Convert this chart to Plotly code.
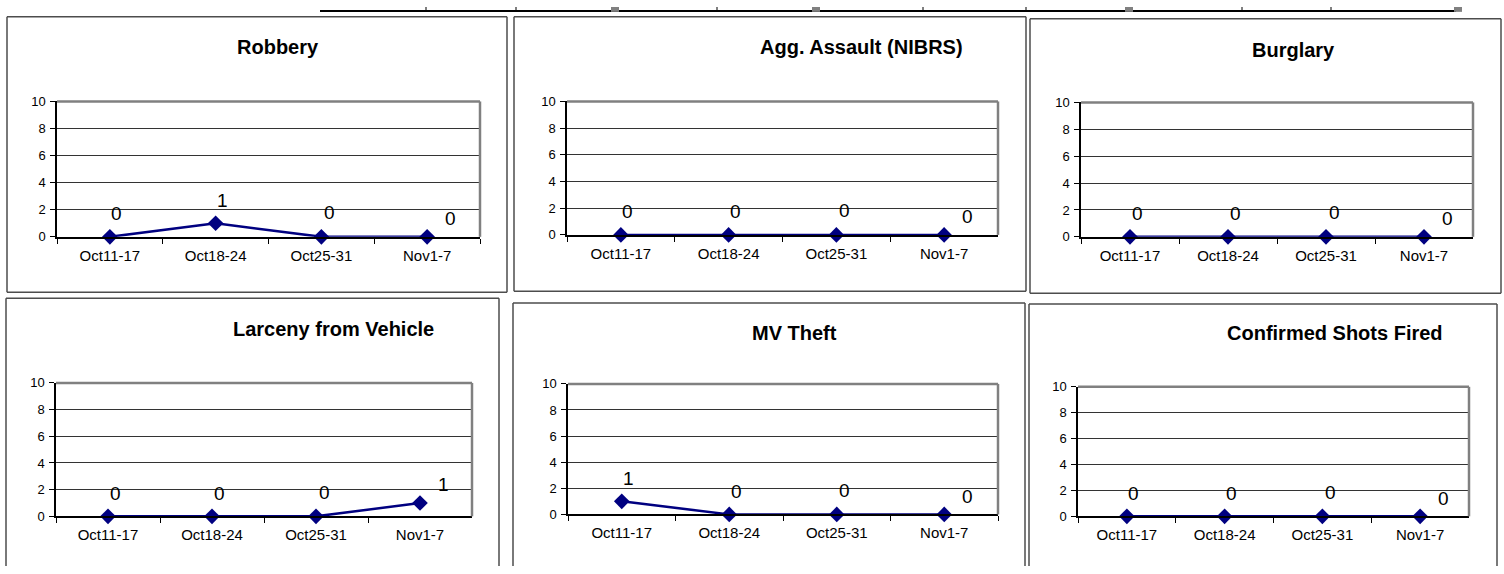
import plotly.graph_objects as go

# Weekly periods shown on every panel
weeks = ["Oct11-17", "Oct18-24", "Oct25-31", "Nov1-7"]

# Incident counts per offense type
robbery = [0, 1, 0, 0]
agg_assault = [0, 0, 0, 0]
burglary = [0, 0, 0, 0]
larceny_vehicle = [0, 0, 0, 1]
mv_theft = [1, 0, 0, 0]
shots_fired = [0, 0, 0, 0]

titles = [
    "Robbery",
    "Agg. Assault (NIBRS)",
    "Burglary",
    "Larceny from Vehicle",
    "MV Theft",
    "Confirmed Shots Fired",
]
series = [robbery, agg_assault, burglary, larceny_vehicle, mv_theft, shots_fired]

y_ticks = [0, 2, 4, 6, 8, 10]

W, H = 1504, 574
FONT = "Liberation Sans, Arial, sans-serif"
NAVY = "#000080"

# Pixel nudges for the value labels, by week position
label_dx = [7, 7, 8, 23]
label_dy = [23, 23, 24, 18]


def px_x(v):
    return v / W


def px_y(v):
    return 1 - v / H


# Layout geometry (pixels): plot area, panel frame (None = runs off the page) and title centre
panels = [
    dict(plot=(57, 480, 97, 236), box=(7, 507, 10, 293), title=(278, 41)),
    dict(plot=(567, 998, 97, 234), box=(514, 1026, 10, 292), title=(862, 41)),
    dict(plot=(1081, 1473, 98, 236), box=(1030, 1501, 12, 294), title=(1293, 44)),
    dict(plot=(56, 472, 386, 523), box=(6, 499, 299, None), title=(333, 331)),
    dict(plot=(568, 998, 387, 521), box=(513, 1025, 304, None), title=(794, 335)),
    dict(plot=(1078, 1469, 390, 523), box=(1029, 1497, 305, None), title=(1335, 335)),
]

BORDER = dict(color="#4d4d4d", width=1.5)


def seg(xa, ya, xb, yb, line):
    return dict(type="line", xref="paper", yref="paper",
                x0=px_x(xa), x1=px_x(xb), y0=px_y(ya), y1=px_y(yb), line=line)


fig = go.Figure()
shapes = []
annotations = []
layout_axes = {}

for i, (panel, title, vals) in enumerate(zip(panels, titles, series), start=1):
    xa = "x" if i == 1 else f"x{i}"
    ya = "y" if i == 1 else f"y{i}"
    x0, x1, y0, y1 = panel["plot"]

    fig.add_trace(
        go.Scatter(
            x=weeks,
            y=vals,
            mode="lines+markers",
            line=dict(color=NAVY, width=2.5),
            marker=dict(symbol="diamond", size=12, color=NAVY),
            cliponaxis=False,
            xaxis=xa,
            yaxis=ya,
            showlegend=False,
            hoverinfo="x+y",
        )
    )

    layout_axes[f"xaxis{i if i > 1 else ''}"] = dict(
        domain=[px_x(x0), px_x(x1)],
        anchor=ya,
        type="category",
        categoryorder="array",
        categoryarray=weeks,
        range=[-0.5, len(weeks) - 0.5],
        tickson="boundaries",
        ticks="outside",
        ticklen=5,
        tickcolor="black",
        ticklabelstandoff=4,
        showline=True,
        linecolor="black",
        linewidth=1.5,
        showgrid=False,
        zeroline=False,
        tickfont=dict(family=FONT, size=15, color="black"),
        fixedrange=True,
    )
    layout_axes[f"yaxis{i if i > 1 else ''}"] = dict(
        domain=[px_y(y1), px_y(y0)],
        anchor=xa,
        range=[0, 10],
        tickvals=y_ticks,
        ticks="outside",
        ticklen=5,
        tickcolor="black",
        ticklabelstandoff=2,
        showline=True,
        linecolor="black",
        linewidth=1.5,
        showgrid=True,
        gridcolor="#333333",
        gridwidth=1.2,
        zeroline=False,
        tickfont=dict(family=FONT, size=13, color="black"),
        fixedrange=True,
    )

    # Plot-area frame: grey top and right edges
    shapes.append(dict(type="line", xref=f"{xa} domain", yref=f"{ya} domain",
                       x0=0, x1=1, y0=1, y1=1, line=dict(color="#808080", width=2.5)))
    shapes.append(dict(type="line", xref=f"{xa} domain", yref=f"{ya} domain",
                       x0=1, x1=1, y0=0, y1=1, line=dict(color="#808080", width=2.5)))

    # Chart border (lower row continues past the bottom edge)
    bx0, bx1, by0, by1 = panel["box"]
    bottom = H if by1 is None else by1
    shapes.append(seg(bx0, by0, bx1, by0, BORDER))
    shapes.append(seg(bx0, by0, bx0, bottom, BORDER))
    shapes.append(seg(bx1, by0, bx1, bottom, BORDER))
    if by1 is not None:
        shapes.append(seg(bx0, by1, bx1, by1, BORDER))

    # Chart title
    tx, ty = panel["title"]
    annotations.append(dict(text=f"<b>{title}</b>", xref="paper", yref="paper",
                            x=px_x(tx), y=px_y(ty), xanchor="center", yanchor="middle",
                            showarrow=False, font=dict(family=FONT, size=20, color="black")))

    # Value labels above each point
    for k, (w, v) in enumerate(zip(weeks, vals)):
        annotations.append(dict(text=str(v), xref=xa, yref=ya, x=w, y=v,
                                xanchor="center", yanchor="middle",
                                xshift=label_dx[k], yshift=label_dy[k], showarrow=False,
                                font=dict(family=FONT, size=19, color="black")))

# Edge of the table row above the charts
shapes.append(seg(320, 4, 1456, 4, dict(color="black", width=2)))
for dx in [426, 516, 717, 923, 1026, 1242, 1331]:
    shapes.append(seg(dx, 0, dx, 4, dict(color="black", width=1)))
for gx in [615, 816, 1129, 1458]:
    shapes.append(dict(type="rect", xref="paper", yref="paper",
                       x0=px_x(gx - 4), x1=px_x(gx + 4), y0=px_y(5), y1=px_y(0),
                       fillcolor="#808080", line=dict(width=0)))

fig.update_layout(
    width=W,
    height=H,
    margin=dict(l=0, r=0, t=0, b=0),
    paper_bgcolor="white",
    plot_bgcolor="white",
    shapes=shapes,
    annotations=annotations,
    **layout_axes,
)

fig.write_html("out.html", config={"displayModeBar": False})
